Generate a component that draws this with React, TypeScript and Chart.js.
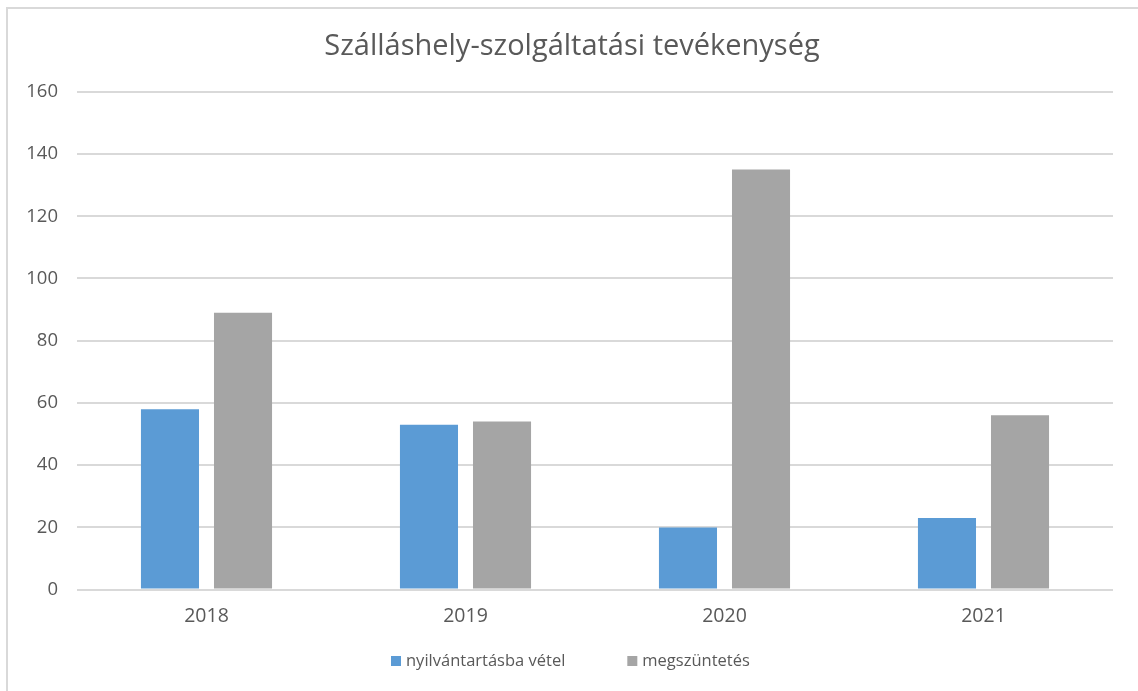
import React, { useEffect, useRef } from "react";
import { Chart, registerables } from "chart.js";

Chart.register(...registerables);

const categories = ["2018", "2019", "2020", "2021"];
const nyilvantartasba = [58, 53, 20, 23];
const megszuntetes = [89, 54, 135, 56];
const seriesNames = ["nyilvántartásba vétel", "megszüntetés"];
const yTicks = [0, 20, 40, 60, 80, 100, 120, 140, 160];

const FONT = "'Open Sans', 'Liberation Sans', sans-serif";
const TEXT = "#595959";

const framePlugin = {
  id: "frame",
  beforeDraw(chart: any) {
    const ctx = chart.ctx;
    ctx.save();
    ctx.fillStyle = "#ffffff";
    ctx.fillRect(0, 0, chart.width, chart.height);
    ctx.strokeStyle = "#d9d9d9";
    ctx.lineWidth = 2;
    ctx.beginPath();
    ctx.moveTo(7, chart.height + 5);
    ctx.lineTo(7, 8);
    ctx.lineTo(chart.width + 5, 8);
    ctx.stroke();
    ctx.restore();
  },
  afterLayout(chart: any) {
    const tb = chart.titleBlock;
    if (tb) {
      const shift = 572 - (tb.left + tb.right) / 2;
      tb.left += shift;
      tb.right += shift;
    }
  },
  afterDraw(chart: any) {
    const ctx = chart.ctx;
    ctx.save();
    ctx.font = `16.5px ${FONT}`;
    ctx.textBaseline = "middle";
    const box = 10;
    const gapBoxText = 5;
    const gapItems = 62;
    let x = 391;
    const cy = 661;
    for (const ds of chart.data.datasets) {
      ctx.fillStyle = ds.backgroundColor;
      ctx.fillRect(x, cy - box / 2, box, box);
      x += box + gapBoxText;
      ctx.fillStyle = TEXT;
      ctx.fillText(ds.label, x, cy);
      x += ctx.measureText(ds.label).width + gapItems;
    }
    ctx.restore();
  },
};

export default function App() {
  const ref = useRef<HTMLCanvasElement | null>(null);
  useEffect(() => {
    document.body.style.margin = "0";
    const chart = new Chart(ref.current!, {
      type: "bar",
      data: {
        labels: categories,
        datasets: [
          {
            label: seriesNames[0],
            data: nyilvantartasba,
            backgroundColor: "#5B9BD5",
            categoryPercentage: 0.564,
            barPercentage: 0.795,
          },
          {
            label: seriesNames[1],
            data: megszuntetes,
            backgroundColor: "#A5A5A5",
            categoryPercentage: 0.564,
            barPercentage: 0.795,
          },
        ],
      },
      options: {
        animation: false,
        responsive: false,
        maintainAspectRatio: false,
        layout: { padding: { left: 0, right: 25, top: 0, bottom: 48 } },
        plugins: {
          title: {
            display: true,
            text: "Szálláshely-szolgáltatási tevékenység",
            color: TEXT,
            font: { family: FONT, size: 29, weight: "normal" },
            padding: { top: 29, bottom: 28 },
          },
          legend: { display: false },
          tooltip: { enabled: false },
        },
        scales: {
          x: {
            grid: { display: false, drawTicks: false },
            border: { display: false },
            ticks: {
              color: TEXT,
              font: { family: FONT, size: 19.5 },
              padding: 15,
            },
          },
          y: {
            min: 0,
            max: 160,
            afterFit: (scale: any) => {
              scale.width = 77;
            },
            afterBuildTicks: (scale: any) => {
              scale.ticks = yTicks.map((v) => ({ value: v }));
            },
            grid: { color: "#d9d9d9", lineWidth: 2, drawTicks: false },
            border: { display: false },
            ticks: {
              color: TEXT,
              font: { family: FONT, size: 18.5 },
              padding: 19,
            },
          },
        },
      },
      plugins: [framePlugin],
    } as any);
    return () => chart.destroy();
  }, []);
  return (
    <div style={{ position: "absolute", left: 0, top: 0, width: 1138, height: 691 }}>
      <canvas ref={ref} width={1138} height={691} />
    </div>
  );
}
